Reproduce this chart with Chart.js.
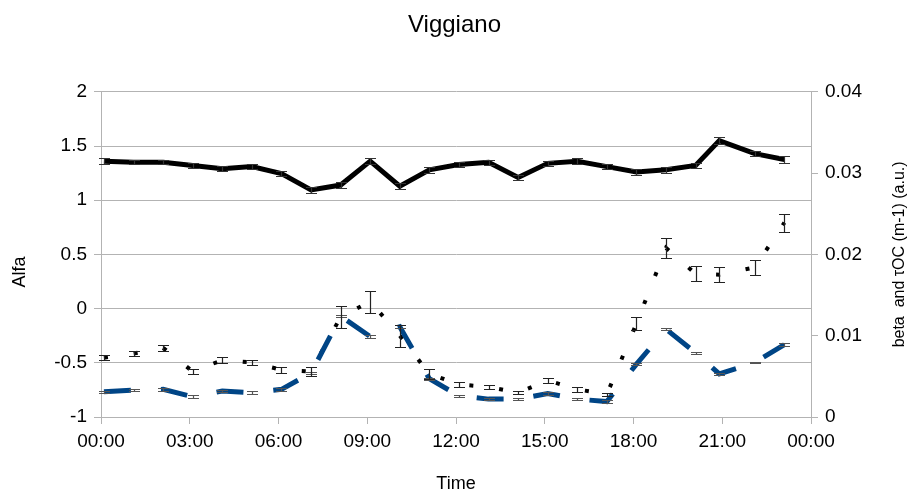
<!DOCTYPE html>
<html>
<head>
<meta charset="utf-8">
<title>Viggiano</title>
<script src="https://cdn.jsdelivr.net/npm/chart.js@4.4.1/dist/chart.umd.min.js"></script>
<style>
  html, body { margin: 0; padding: 0; background: #fff; }
  #wrap { width: 909px; height: 492px; position: relative; }
</style>
</head>
<body>
<div id="wrap"><canvas id="chart"></canvas></div>
<script>
// measurement times (hh:mm)
const times = ['00:06', '01:06', '02:06', '03:06', '04:06', '05:06', '06:06', '07:06',
  '08:06', '09:06', '10:06', '11:06', '12:06', '13:06', '14:06', '15:06',
  '16:06', '17:06', '18:06', '19:06', '20:06', '20:54', '22:06', '23:06'];

// Alfa (left axis)
const alfa = [1.36, 1.35, 1.35, 1.32, 1.29, 1.31, 1.245, 1.095, 1.14, 1.36, 1.13, 1.28,
  1.33, 1.35, 1.21, 1.34, 1.36, 1.31, 1.26, 1.28, 1.32, 1.55, 1.43, 1.375];
const alfaErr = [0.03, 0.02, 0.02, 0.02, 0.025, 0.025, 0.025, 0.025, 0.025, 0.03, 0.03, 0.025,
  0.02, 0.025, 0.02, 0.025, 0.025, 0.02, 0.025, 0.025, 0.025, 0.03, 0.025, 0.03];

// beta (right axis, dashed blue)
const beta = [0.0031, 0.0033, 0.0034, 0.0025, 0.0032, 0.0030, 0.0034, 0.0054, 0.0124, 0.0099, 0.0111, 0.0047,
  0.0026, 0.0022, 0.0022, 0.0029, 0.0022, 0.0019, 0.0065, 0.0108, 0.0079, 0.0053, 0.0067, 0.0089];
const betaErr = [0.00015, 0.00015, 0.00015, 0.00015, 0.00015, 0.00015, 0.00015, 0.00015, 0.0001, 0.00015, 0.00016, 0.00015,
  0.00015, 0.00015, 0.00015, 0.00015, 0.00015, 0.00015, 0.00015, 0.0001, 0.00015, 0.00015, 0.0001, 0.00015];

// tauOC (right axis, dotted black)
const tauOC = [0.0073, 0.0078, 0.0085, 0.0056, 0.0070, 0.0067, 0.0058, 0.0056, 0.0123, 0.0142, 0.0100, 0.0053,
  0.0040, 0.0037, 0.0030, 0.0045, 0.0034, 0.0028, 0.0115, 0.0208, 0.0176, 0.0175, 0.0184, 0.0239];
const tauErr = [0.0003, 0.0003, 0.00035, 0.00027, 0.00037, 0.0003, 0.00035, 0.0005, 0.0013, 0.00135, 0.00137, 0.0006,
  0.0003, 0.00027, 0.0002, 0.00035, 0.00035, 0.0002, 0.00074, 0.00127, 0.00092, 0.00092, 0.00088, 0.0011];

const xTickLabels = ['00:00', '03:00', '06:00', '09:00', '12:00', '15:00', '18:00', '21:00', '00:00'];

const FONT = "'Liberation Sans', Arial, sans-serif";
const AXIS_GREY = '#b3b3b3';

function hours(t) {
  const [h, m] = t.split(':').map(Number);
  return h + m / 60;
}
function points(vals) {
  return vals.map((v, i) => ({ x: hours(times[i]), y: v }));
}
function fmt(v) {
  return String(Number(v.toFixed(4)));
}

// vertical error bars with caps, drawn on top of the lines
const errorBars = {
  id: 'errorBars',
  afterDatasetsDraw(chart) {
    const ctx = chart.ctx;
    chart.data.datasets.forEach((ds, i) => {
      if (!ds.errors) return;
      const meta = chart.getDatasetMeta(i);
      const ys = chart.scales[ds.yAxisID];
      ctx.save();
      ctx.strokeStyle = ds.errorColor;
      ctx.lineWidth = 1.2;
      meta.data.forEach((pt, j) => {
        const v = ds.data[j].y, e = ds.errors[j];
        const x = Math.round(pt.x) + 0.5;
        const top = Math.round(ys.getPixelForValue(v + e)) + 0.5;
        const bot = Math.round(ys.getPixelForValue(v - e)) + 0.5;
        ctx.beginPath();
        ctx.moveTo(x, top); ctx.lineTo(x, bot);
        ctx.moveTo(x - 5.5, top); ctx.lineTo(x + 5.5, top);
        ctx.moveTo(x - 5.5, bot); ctx.lineTo(x + 5.5, bot);
        ctx.stroke();
      });
      ctx.restore();
    });
  }
};

// axis titles (right one reads bottom-to-top like the left one)
const axisTitles = {
  id: 'axisTitles',
  afterDraw(chart) {
    const ctx = chart.ctx;
    const area = chart.chartArea;
    ctx.save();
    ctx.fillStyle = '#000';
    ctx.textAlign = 'center';
    ctx.textBaseline = 'middle';
    ctx.font = '18px ' + FONT;
    ctx.fillText('Time', (area.left + area.right) / 2, chart.height - 8);

    ctx.save();
    ctx.translate(20, 272);
    ctx.rotate(-Math.PI / 2);
    ctx.fillText('Alfa', 0, 0);
    ctx.restore();

    ctx.save();
    ctx.font = '16px ' + FONT;
    ctx.translate(chart.width - 9, (area.top + area.bottom) / 2);
    ctx.rotate(-Math.PI / 2);
    ctx.fillText('beta  and \u03C4OC (m-1) (a.u.)', 0, 0);
    ctx.restore();
    ctx.restore();
  }
};

Chart.defaults.font.family = FONT;
Chart.defaults.color = '#000';

const ctx = document.getElementById('chart').getContext('2d');
new Chart(ctx, {
  type: 'line',
  data: {
    datasets: [{
      label: 'Alfa',
      data: points(alfa),
      errors: alfaErr,
      errorColor: '#333',
      yAxisID: 'y',
      borderColor: '#000',
      borderWidth: 5,
      pointRadius: 0,
      tension: 0
    }, {
      label: 'beta',
      data: points(beta),
      errors: betaErr,
      errorColor: '#555',
      yAxisID: 'y1',
      borderColor: '#004586',
      borderWidth: 5,
      borderDash: [27, 30],
      pointRadius: 0,
      tension: 0
    }, {
      label: 'tauOC',
      data: points(tauOC),
      errors: tauErr,
      errorColor: '#222',
      yAxisID: 'y1',
      borderColor: '#000',
      borderWidth: 4,
      borderDash: [4, 26],
      pointRadius: 0,
      tension: 0
    }]
  },
  options: {
    responsive: true,
    maintainAspectRatio: false,
    animation: false,
    layout: { padding: 0 },
    plugins: {
      legend: { display: false },
      tooltip: { enabled: false },
      title: {
        display: true,
        text: 'Viggiano',
        color: '#000',
        font: { size: 24, weight: 'normal', family: FONT },
        padding: { top: 11, bottom: 52 }
      }
    },
    scales: {
      x: {
        type: 'linear',
        min: 0,
        max: 24,
        afterFit(s) { s.height = 75; },
        ticks: {
          stepSize: 3,
          autoSkip: false,
          maxRotation: 0,
          padding: 6,
          font: { size: 19 },
          callback: (v, i) => xTickLabels[i]
        },
        grid: { drawOnChartArea: false, color: AXIS_GREY, tickLength: 7 },
        border: { color: AXIS_GREY }
      },
      y: {
        position: 'left',
        min: -1,
        max: 2,
        afterFit(s) { s.width = 101; },
        ticks: { stepSize: 0.5, padding: 7, font: { size: 19 }, callback: v => fmt(v) },
        grid: { color: AXIS_GREY, tickLength: 7 },
        border: { color: AXIS_GREY }
      },
      y1: {
        position: 'right',
        min: 0,
        max: 0.04,
        afterFit(s) { s.width = 98; },
        ticks: { stepSize: 0.01, padding: 7, font: { size: 19 }, callback: v => fmt(v) },
        grid: { drawOnChartArea: false, color: AXIS_GREY, tickLength: 7 },
        border: { color: AXIS_GREY }
      }
    }
  },
  plugins: [errorBars, axisTitles]
});
</script>
</body>
</html>
